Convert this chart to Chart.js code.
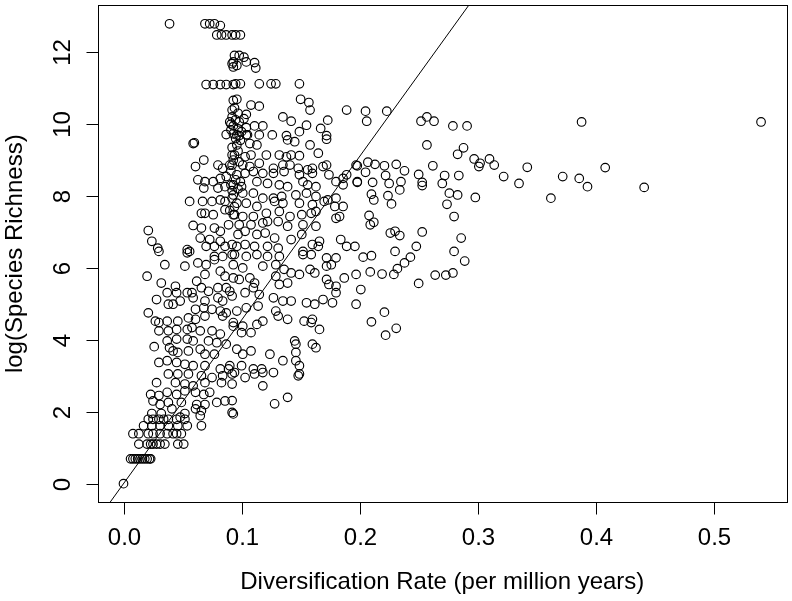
<!DOCTYPE html>
<html>
<head>
<meta charset="utf-8">
<script src="https://cdn.jsdelivr.net/npm/chart.js@4.4.1/dist/chart.umd.min.js"></script>
<style>
  html, body { margin: 0; padding: 0; background: #fff; }
  canvas { display: block; }
</style>
</head>
<body>
<canvas id="c" width="792" height="601"></canvas>
<script>
// ---- Data: [diversification rate (per Myr), log(species richness)] ----
const topCluster = [
  [0.039,12.79],[0.069,12.79],[0.073,12.79],[0.077,12.79],[0.082,12.74],
  [0.079,12.48],[0.083,12.48],[0.087,12.48],[0.092,12.48],[0.095,12.48],[0.099,12.48],
  [0.093,11.73],[0.093,11.59],[0.094,11.91],[0.098,11.91],[0.102,11.86],[0.096,11.63],[0.092,11.68],
  [0.104,11.73],[0.111,11.71],[0.112,11.56],
  [0.070,11.10],[0.076,11.10],[0.082,11.10],[0.087,11.10],[0.093,11.10],[0.095,11.12],[0.099,11.12],
  [0.115,11.12],[0.125,11.12],[0.129,11.12],[0.149,11.12]
];
const upperBand = [
  [0.092,10.39],[0.093,10.66],[0.096,10.69],[0.108,10.53],[0.115,10.50],[0.150,10.69],[0.157,10.60],
  [0.158,10.39],[0.104,10.27],[0.189,10.39],[0.135,10.20],[0.142,10.08],[0.173,10.11],[0.155,9.97],
  [0.167,9.88],[0.111,9.95],[0.118,9.95],
  [0.092,10.20],[0.095,10.12],[0.098,10.06],[0.102,10.15],[0.093,9.95],[0.097,9.87],[0.100,9.79],
  [0.104,9.90],[0.093,9.73],[0.098,9.68],[0.105,9.70],[0.090,10.06],[0.091,9.84],
  [0.094,10.45],[0.097,10.30],[0.091,10.00],[0.095,9.60],[0.099,9.55],[0.092,9.35],[0.097,9.25],
  [0.126,9.70],[0.138,9.68],[0.172,9.68],[0.059,9.46],[0.060,9.48],[0.087,9.71],
  [0.096,9.70],[0.104,9.70],[0.115,9.70],[0.149,9.79],[0.172,9.58],[0.096,9.42],[0.107,9.46],
  [0.113,9.42],[0.139,9.56],[0.145,9.51],[0.158,9.42],
  [0.205,10.36],[0.206,10.08],[0.223,10.36],[0.252,10.08],[0.257,10.20],[0.263,10.08],[0.279,9.95],
  [0.291,9.95],[0.257,9.42],[0.288,9.34],[0.388,10.06],[0.540,10.06]
];
const middleUpper = [
  [0.068,9.00],[0.061,8.82],[0.080,8.86],[0.084,8.77],[0.090,8.86],[0.092,9.14],
  [0.093,9.00],[0.098,8.95],[0.091,8.70],[0.095,8.45],[0.099,8.40],[0.092,8.15],[0.097,8.20],
  [0.094,7.70],[0.090,7.60],
  [0.063,8.45],[0.069,8.40],[0.076,8.40],[0.082,8.49],[0.087,8.54],[0.068,8.22],[0.080,8.22],
  [0.086,8.26],[0.093,8.31],[0.056,7.85],[0.067,7.85],[0.075,7.85],[0.082,7.89],[0.086,7.85],
  [0.092,7.94],[0.066,7.52],[0.069,7.52],[0.076,7.48],[0.086,7.62],[0.093,7.48],
  [0.094,9.14],[0.103,9.09],[0.108,9.14],[0.121,9.14],[0.132,9.14],[0.138,9.09],[0.142,9.14],
  [0.149,9.12],[0.165,9.19],
  [0.092,8.86],[0.101,8.86],[0.107,8.82],[0.115,8.91],[0.127,8.77],[0.135,8.86],[0.141,8.86],
  [0.148,8.77],[0.156,8.73],[0.160,8.77],[0.172,8.86],[0.169,8.82],[0.197,8.86],
  [0.096,8.59],[0.103,8.63],[0.110,8.68],[0.118,8.63],[0.127,8.63],[0.136,8.68],[0.149,8.59],
  [0.160,8.63],[0.174,8.59],[0.180,8.40],[0.186,8.49],[0.189,8.59],[0.198,8.40],
  [0.091,8.31],[0.100,8.26],[0.113,8.40],[0.122,8.35],[0.132,8.31],[0.139,8.26],[0.152,8.40],
  [0.156,8.31],[0.163,8.26],[0.186,8.31],
  [0.093,8.03],[0.101,8.08],[0.110,8.08],[0.118,7.94],[0.127,7.94],[0.134,7.99],[0.146,8.03],
  [0.155,8.08],[0.163,7.99],
  [0.096,7.80],[0.104,7.80],[0.113,7.71],[0.128,7.85],[0.135,7.80],[0.149,7.80],[0.160,7.76],
  [0.170,7.85],[0.173,7.89],[0.180,7.94],[0.179,7.71],[0.186,7.71],
  [0.094,7.48],[0.101,7.43],[0.110,7.43],[0.121,7.52],[0.132,7.57],[0.141,7.43],[0.151,7.48],
  [0.159,7.52],[0.163,7.57],[0.180,7.38],[0.183,7.43]
];
const middleBand = [
  [0.021,7.04],[0.024,6.74],[0.029,6.55],[0.059,7.18],[0.066,7.11],[0.077,7.11],[0.082,7.02],
  [0.089,7.20],[0.065,6.83],[0.073,6.79],[0.077,6.60],[0.070,6.60],[0.082,6.74],[0.054,6.51],
  [0.056,6.46],[0.086,6.60],[0.092,6.65],
  [0.098,7.20],[0.108,7.20],[0.118,7.25],[0.122,7.29],[0.131,7.29],[0.139,7.16],[0.152,7.20],
  [0.163,7.16],[0.097,6.93],[0.103,7.02],[0.113,6.93],[0.120,6.97],[0.128,6.83],[0.142,6.79],
  [0.151,6.93],[0.166,6.74],[0.184,6.79],[0.189,6.60],[0.196,6.60],
  [0.096,6.60],[0.103,6.65],[0.111,6.60],[0.122,6.60],[0.131,6.55],[0.152,6.46],[0.160,6.65],
  [0.165,6.60]
];
const rightTail = [
  [0.283,9.16],[0.262,8.84],[0.297,9.03],[0.302,8.91],[0.301,8.82],[0.310,9.03],[0.314,8.86],
  [0.322,8.54],[0.335,8.35],[0.342,8.80],[0.372,8.54],[0.362,7.94],
  [0.198,8.84],[0.207,8.94],[0.213,8.88],[0.221,8.84],[0.231,8.88],[0.205,8.66],[0.238,8.70],
  [0.198,8.38],[0.211,8.38],[0.222,8.57],[0.225,8.35],[0.235,8.40],[0.234,8.17],[0.250,8.60],
  [0.253,8.38],[0.253,8.29],[0.270,8.35],[0.272,8.57],[0.284,8.57],
  [0.210,8.05],[0.212,7.89],[0.224,8.01],[0.227,7.78],[0.276,8.08],[0.283,8.03],[0.274,7.77],
  [0.298,7.96],[0.280,7.43],
  [0.208,7.46],[0.209,7.20],[0.212,7.27],[0.226,6.97],[0.230,7.02],[0.234,6.90],[0.253,7.00],
  [0.286,6.83],
  [0.203,6.30],[0.210,6.34],[0.230,6.46],[0.243,6.30],[0.248,6.60],[0.280,6.46],[0.289,6.19],
  [0.238,6.14],
  [0.209,5.89],[0.219,5.83],[0.229,5.82],[0.232,5.98],[0.264,5.80],[0.273,5.80],[0.279,5.86],
  [0.250,5.57],[0.201,5.40],[0.221,4.77],[0.210,4.50],[0.222,4.13],[0.231,4.32],
  [0.408,8.79],[0.386,8.49],[0.393,8.26],[0.441,8.24]
];
const lowerBand = [
  [0.030,6.46],[0.054,6.42],[0.077,6.32],[0.084,6.32],[0.092,6.37],[0.035,6.09],[0.052,6.05],
  [0.063,6.14],[0.070,6.09],[0.077,6.23],
  [0.020,5.77],[0.032,5.58],[0.044,5.49],[0.062,5.63],[0.069,5.82],[0.082,5.91],[0.086,5.77],
  [0.037,5.31],[0.045,5.31],[0.054,5.31],[0.058,5.31],[0.066,5.45],[0.072,5.35],[0.080,5.45],
  [0.087,5.45],
  [0.028,5.12],[0.038,4.99],[0.042,4.99],[0.048,5.08],[0.059,5.17],[0.069,5.08],[0.080,5.17],
  [0.084,5.08],[0.092,5.22],
  [0.061,4.85],[0.068,4.89],[0.075,4.85],[0.082,4.80],[0.087,4.75],
  [0.021,4.75],[0.027,4.52],[0.030,4.48],[0.037,4.52],[0.046,4.52],[0.055,4.61],[0.061,4.57],
  [0.069,4.66],[0.084,4.66],
  [0.030,4.25],[0.038,4.25],[0.045,4.29],[0.054,4.29],[0.058,4.34],[0.065,4.25],[0.075,4.25],
  [0.082,4.16],[0.093,4.38],
  [0.037,3.97],[0.045,4.02],[0.054,4.02],[0.059,3.97],[0.072,3.97],[0.079,3.92],[0.087,3.88],
  [0.026,3.81],[0.039,3.78],[0.042,3.69],[0.046,3.65],[0.055,3.69],[0.065,3.74],[0.069,3.60],
  [0.077,3.60],
  [0.030,3.37],[0.037,3.42],[0.045,3.37],[0.052,3.32],[0.059,3.28],[0.069,3.28],[0.082,3.19],
  [0.089,3.19],
  [0.094,6.37],[0.104,6.32],[0.113,6.37],[0.122,6.32],[0.132,6.32],[0.152,6.37],[0.159,6.37],
  [0.172,6.28],[0.180,6.28],[0.176,6.09],
  [0.093,6.09],[0.101,6.00],[0.118,6.05],[0.129,6.09],[0.136,5.96],[0.142,5.86],[0.149,5.82],
  [0.158,5.96],[0.162,5.86],[0.172,6.05],
  [0.093,5.72],[0.098,5.68],[0.107,5.72],[0.111,5.58],[0.129,5.77],[0.132,5.54],[0.139,5.58],
  [0.172,5.68],[0.174,5.54],[0.180,5.49],[0.187,5.72],[0.197,5.82],
  [0.090,5.35],[0.103,5.31],[0.110,5.45],[0.115,5.26],[0.127,5.17],[0.135,5.08],[0.142,5.08],
  [0.155,5.03],[0.162,4.99],[0.169,5.12],[0.177,5.03],[0.180,5.31],[0.197,4.99],
  [0.096,4.80],[0.104,4.89],[0.114,4.94],[0.129,4.80],[0.131,4.66],[0.139,4.57],[0.153,4.52],
  [0.160,4.57],[0.159,4.48],[0.166,4.29],
  [0.093,4.48],[0.101,4.38],[0.113,4.43],[0.118,4.52],[0.100,4.20],[0.108,4.20],
  [0.145,3.97],[0.146,3.88],[0.160,3.88],[0.163,3.78],[0.146,3.65],
  [0.096,3.74],[0.101,3.60],[0.108,3.69],[0.124,3.60],[0.135,3.42],[0.146,3.42],[0.149,3.28],
  [0.090,3.28],[0.100,3.28],[0.110,3.19],[0.117,3.19],[0.127,3.09],[0.094,3.09],[0.149,3.05]
];
const smallClades = [
  [0.028,2.81],[0.038,3.05],[0.046,3.05],[0.055,3.05],[0.066,3.00],[0.075,2.95],[0.084,3.00],
  [0.092,3.05],[0.044,2.81],[0.052,2.77],[0.059,2.72],[0.069,2.81],[0.083,2.81],
  [0.023,2.48],[0.030,2.45],[0.037,2.54],[0.045,2.48],[0.052,2.58],[0.061,2.54],[0.068,2.48],
  [0.073,2.54],
  [0.025,2.30],[0.031,2.20],[0.038,2.26],[0.049,2.26],[0.062,2.20],[0.069,2.20],[0.079,2.26],
  [0.086,2.30],
  [0.092,1.98],[0.024,1.95],[0.032,1.95],[0.041,2.08],[0.052,1.95],[0.061,2.08],[0.066,2.03],
  [0.065,1.89],
  [0.021,1.79],[0.025,1.79],[0.030,1.79],[0.034,1.79],[0.038,1.79],[0.045,1.79],[0.052,1.79],
  [0.048,1.85],[0.066,1.61],
  [0.017,1.61],[0.024,1.61],[0.031,1.61],[0.038,1.61],[0.046,1.61],[0.054,1.61],
  [0.008,1.39],[0.013,1.39],[0.021,1.39],[0.025,1.39],[0.031,1.39],[0.037,1.39],[0.042,1.39],
  [0.045,1.39],[0.049,1.39],
  [0.013,1.10],[0.020,1.10],[0.023,1.10],[0.025,1.10],[0.028,1.10],[0.031,1.10],[0.035,1.10],
  [0.046,1.10],[0.051,1.10],
  [0.006,0.69],[0.008,0.69],[0.010,0.69],[0.012,0.69],[0.014,0.69],[0.016,0.69],[0.018,0.69],
  [0.020,0.69],[0.022,0.69],[0.023,0.69],
  [0.000,0.00],
  [0.103,2.95],[0.111,3.05],[0.118,3.09],[0.148,3.00],[0.092,2.77],[0.118,2.72],[0.092,2.31],
  [0.093,1.94],[0.139,2.40],[0.128,2.22]
];

const xTicks = [0.0, 0.1, 0.2, 0.3, 0.4, 0.5];
const xTickLabels = ["0.0", "0.1", "0.2", "0.3", "0.4", "0.5"];
const yTicks = [0, 2, 4, 6, 8, 10, 12];
const yTickLabels = ["0", "2", "4", "6", "8", "10", "12"];
const xTitle = "Diversification Rate (per million years)";
const yTitle = "log(Species Richness)";
const fitSlope = 45.5;   // regression line through the origin

// axis limits (R style: data range extended by 4%)
const X_MIN = -0.0216, X_MAX = 0.5616;
const Y_MIN = -0.51, Y_MAX = 13.30;

const allPoints = [].concat(topCluster, upperBand, middleUpper, middleBand, rightTail, lowerBand, smallClades)
  .map(([x, y]) => ({ x, y }));
const fitLine = [
  { x: X_MIN - 0.02, y: fitSlope * (X_MIN - 0.02) },
  { x: 0.32, y: fitSlope * 0.32 }
];

const FONT = '24px "Liberation Sans", Arial, Helvetica, sans-serif';

const rAxes = {
  id: 'rAxes',
  afterDraw(chart) {
    const { ctx, chartArea: a, scales: { x, y } } = chart;
    ctx.save();
    ctx.strokeStyle = '#000';
    ctx.fillStyle = '#000';
    ctx.lineWidth = 1;
    const L = Math.round(a.left) + 0.5, R = Math.round(a.right) + 0.5;
    const T = Math.round(a.top) + 0.5, B = Math.round(a.bottom) + 0.5;
    ctx.strokeRect(L, T, R - L, B - T);
    ctx.font = FONT;
    ctx.textAlign = 'center';
    ctx.textBaseline = 'alphabetic';
    xTicks.forEach((v, i) => {
      const px = Math.round(x.getPixelForValue(v)) + 0.5;
      ctx.beginPath(); ctx.moveTo(px, B); ctx.lineTo(px, B + 12); ctx.stroke();
      ctx.fillText(xTickLabels[i], px, 545);
    });
    yTicks.forEach((v, i) => {
      const py = Math.round(y.getPixelForValue(v)) + 0.5;
      ctx.beginPath(); ctx.moveTo(L - 12, py); ctx.lineTo(L, py); ctx.stroke();
      ctx.save();
      ctx.translate(70, py);
      ctx.rotate(-Math.PI / 2);
      ctx.fillText(yTickLabels[i], 0, 0);
      ctx.restore();
    });
    ctx.fillText(xTitle, (a.left + a.right) / 2, 589);
    ctx.save();
    ctx.translate(22, (a.top + a.bottom) / 2);
    ctx.rotate(-Math.PI / 2);
    ctx.fillText(yTitle, 0, 0);
    ctx.restore();
    ctx.restore();
  }
};

new Chart(document.getElementById('c'), {
  type: 'scatter',
  data: {
    datasets: [
      {
        data: allPoints,
        showLine: false,
        pointStyle: 'circle',
        pointRadius: 4.3,
        pointBorderWidth: 1.15,
        pointBorderColor: '#000',
        pointBackgroundColor: 'rgba(0,0,0,0)'
      },
      {
        type: 'line',
        data: fitLine,
        borderColor: '#000',
        borderWidth: 1,
        pointRadius: 0,
        fill: false,
        showLine: true,
        tension: 0
      }
    ]
  },
  options: {
    responsive: false,
    animation: false,
    events: [],
    layout: { padding: { left: 98, right: 3, top: 3, bottom: 99 } },
    plugins: { legend: { display: false }, tooltip: { enabled: false } },
    scales: {
      x: { type: 'linear', min: X_MIN, max: X_MAX, display: false },
      y: { type: 'linear', min: Y_MIN, max: Y_MAX, display: false }
    }
  },
  plugins: [rAxes]
});
</script>
</body>
</html>
